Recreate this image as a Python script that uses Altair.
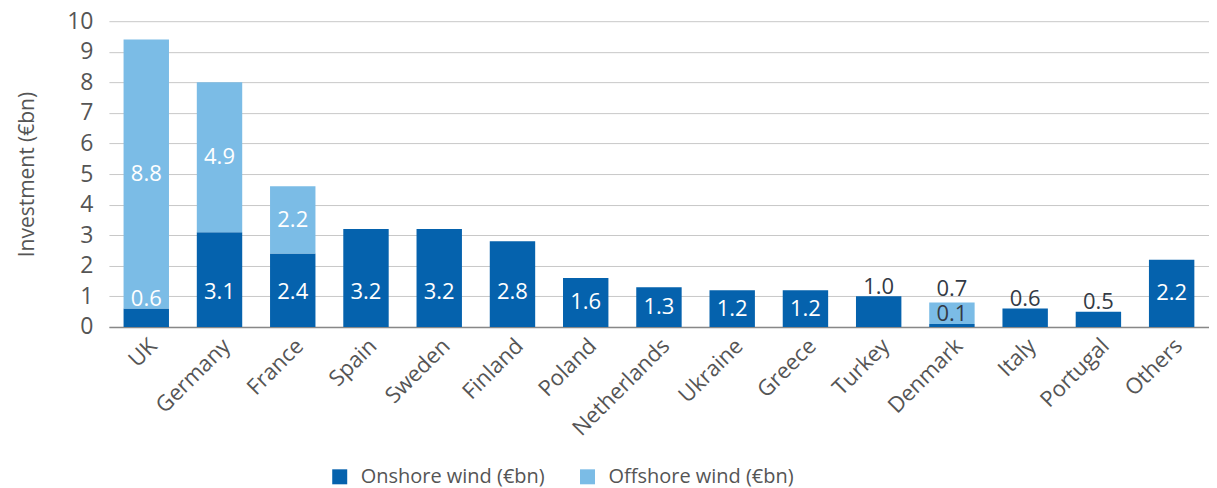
import altair as alt
import pandas as pd

countries = ["UK", "Germany", "France", "Spain", "Sweden", "Finland", "Poland",
             "Netherlands", "Ukraine", "Greece", "Turkey", "Denmark", "Italy",
             "Portugal", "Others"]
onshore = [0.6, 3.1, 2.4, 3.2, 3.2, 2.8, 1.6, 1.3, 1.2, 1.2, 1.0, 0.1, 0.6, 0.5, 2.2]
offshore = [8.8, 4.9, 2.2, 0, 0, 0, 0, 0, 0, 0, 0, 0.7, 0, 0, 0]
y_ticks = [0, 1, 2, 3, 4, 5, 6, 7, 8, 9, 10]

ON = "Onshore wind (€bn)"
OFF = "Offshore wind (€bn)"
C_ON = "#0562ad"
C_OFF = "#7bbce6"
DARK = "#333a45"
GREY = "#555555"
FONT = "Open Sans"

bar_rows = []
for c, a, b in zip(countries, onshore, offshore):
    bar_rows.append({"country": c, "series": ON, "ord": 0, "value": a})
    bar_rows.append({"country": c, "series": OFF, "ord": 1, "value": b})
bar_df = pd.DataFrame(bar_rows)

lab_rows = []
for c, a, b in zip(countries, onshore, offshore):
    if a > 0:
        if a >= 1.1:
            lab_rows.append({"country": c, "label": f"{a:.1f}", "ypos": min(a / 2, 1.15), "tc": "white"})
        else:
            lab_rows.append({"country": c, "label": f"{a:.1f}", "ypos": a + 0.32,
                             "tc": "white" if b >= 1 else DARK})
    if b > 0:
        if b >= 1:
            lab_rows.append({"country": c, "label": f"{b:.1f}", "ypos": a + b / 2, "tc": "white"})
        else:
            lab_rows.append({"country": c, "label": f"{b:.1f}", "ypos": a + b + 0.45, "tc": DARK})
lab_df = pd.DataFrame(lab_rows)

x_scale = alt.Scale(paddingInner=0.38, paddingOuter=0.2)
x_axis = alt.Axis(title=None, labelAngle=-45, labelFontSize=22, labelColor=GREY,
                  labelFont=FONT, ticks=False, domainColor="#888888",
                  domainWidth=1.5, labelPadding=8)
y_scale = alt.Scale(domain=[0, 10])
y_axis = alt.Axis(title="Investment (€bn)", values=y_ticks, grid=True,
                  gridColor="#c8c8c8", domain=False, ticks=False,
                  labelOverlap=False,
                  labelPadding=16, labelFontSize=23, labelColor=GREY,
                  labelFont=FONT, titleFont=FONT, titleFontSize=21,
                  titleFontWeight="normal", titleColor=GREY, titlePadding=29)

bars = alt.Chart(bar_df).mark_bar().encode(
    x=alt.X("country:N", sort=countries, scale=x_scale, axis=x_axis),
    y=alt.Y("value:Q", stack="zero", scale=y_scale, axis=y_axis),
    color=alt.Color("series:N", scale=alt.Scale(domain=[ON, OFF], range=[C_ON, C_OFF]),
                    legend=alt.Legend(title=None, orient="none", legendX=221, legendY=446,
                                      direction="horizontal", symbolType="square",
                                      symbolSize=225, symbolStrokeWidth=0,
                                      labelFontSize=20, labelFont=FONT, labelColor=GREY,
                                      labelLimit=0,
                                      columnPadding=32, labelOffset=11, padding=0)),
    order=alt.Order("ord:Q", sort="ascending"),
)

labels = alt.Chart(lab_df).mark_text(fontSize=22, font=FONT, baseline="middle").encode(
    x=alt.X("country:N", sort=countries, scale=x_scale, axis=x_axis),
    y=alt.Y("ypos:Q", scale=y_scale, axis=y_axis),
    text="label:N",
    color=alt.Color("tc:N", scale=None),
)

chart = alt.layer(bars, labels).properties(
    width=1101, height=306,
    padding={"left": 8, "top": 2, "right": 0, "bottom": 0},
).configure_view(stroke=None)

chart.save("out.html", embed_options={"renderer": "svg", "actions": False})
